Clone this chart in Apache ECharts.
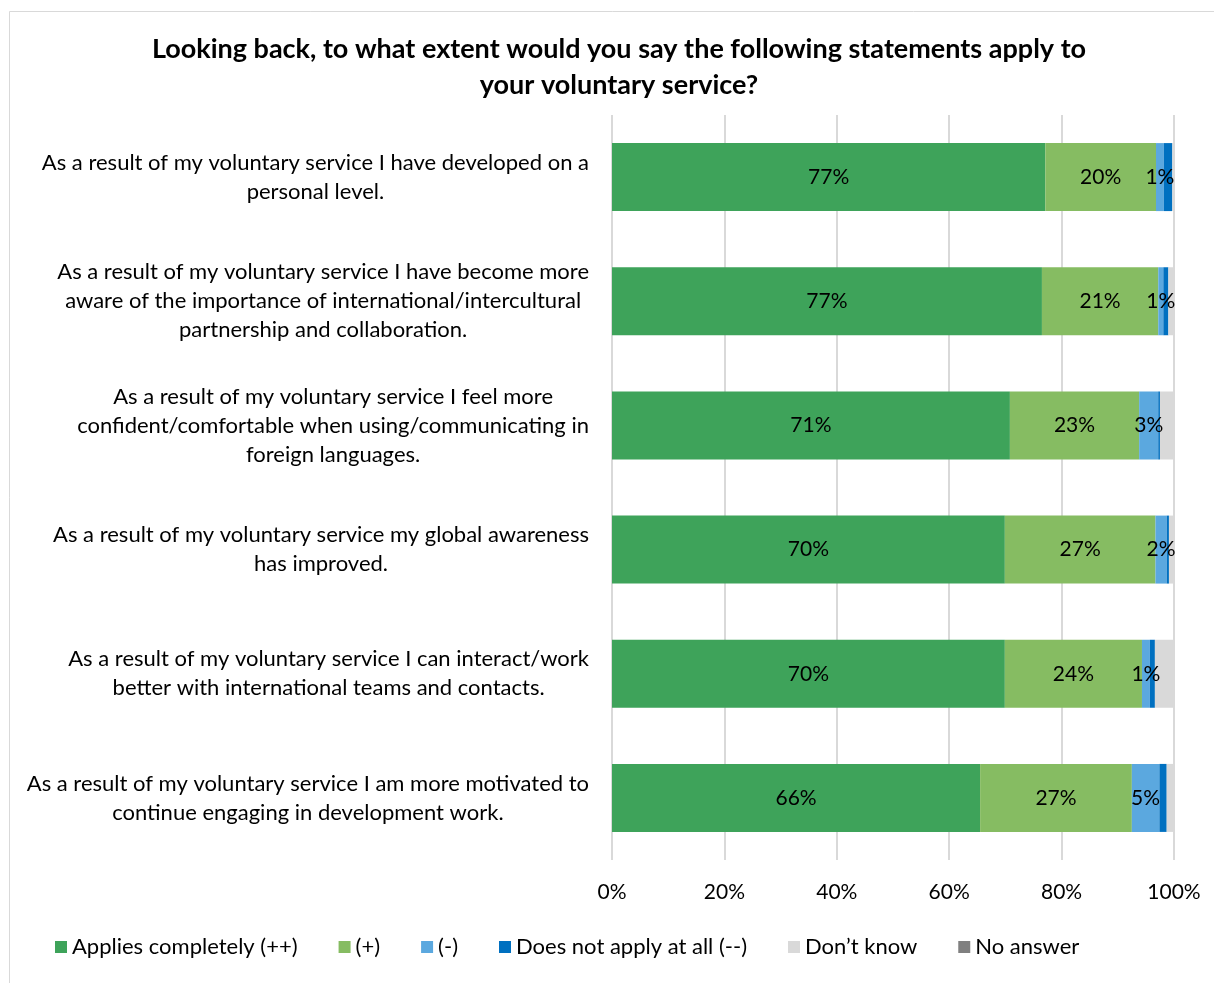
<!DOCTYPE html>
<html>
<head>
<meta charset="utf-8">
<script src="https://cdn.jsdelivr.net/npm/echarts@6/dist/echarts.min.js"></script>
<style>
  html, body { margin: 0; padding: 0; background: #fff; }
  #chart { width: 1214px; height: 983px; }
</style>
</head>
<body>
<div id="chart"></div>
<script>
// Survey statements (each line of a label is one entry)
const statements = [
  ['As a result of my voluntary service I have developed on a', 'personal level.'],
  ['As a result of my voluntary service I have become more', 'aware of the importance of international/intercultural', 'partnership and collaboration.'],
  ['As a result of my voluntary service I feel more', 'confident/comfortable when using/communicating in', 'foreign languages.'],
  ['As a result of my voluntary service my global awareness', 'has improved.'],
  ['As a result of my voluntary service I can interact/work', 'better with international teams and contacts.'],
  ['As a result of my voluntary service I am more motivated to', 'continue engaging in development work.']
];

// Share of respondents per answer (percent)
const appliesCompletely = [77.1, 76.5, 70.8, 69.9, 69.9, 65.5];
const plus              = [19.7, 20.7, 23.0, 26.8, 24.4, 27.0];
const minus             = [1.4, 0.9, 3.4, 2.0, 1.4, 4.9];
const notAtAll          = [1.5, 0.9, 0.3, 0.4, 0.9, 1.3];
const dontKnow          = [0.3, 1.0, 2.5, 0.9, 3.4, 1.3];
const noAnswer          = [0, 0, 0, 0, 0, 0];

const seriesNames = ['Applies completely (++)', '(+)', '(-)', 'Does not apply at all (--)', 'Don\u2019t know', 'No answer'];
const seriesColors = ['#3EA35A', '#86BC62', '#5BA8DF', '#0070C0', '#D9D9D9', '#808080'];
const xTicks = [0, 20, 40, 60, 80, 100];

const FONT = 'Lato';
const chart = echarts.init(document.getElementById('chart'), null, { renderer: 'canvas' });

const seriesData = [appliesCompletely, plus, minus, notAtAll, dontKnow, noAnswer];
const labelled = [true, true, true, false, false, false];

const series = seriesData.map((vals, i) => ({
  name: seriesNames[i],
  type: 'bar',
  stack: 'total',
  barWidth: 68,
  data: vals,
  itemStyle: { color: seriesColors[i] },
  label: {
    show: labelled[i],
    position: 'inside',
    color: '#000',
    fontFamily: FONT,
    fontSize: 21,
    formatter: p => Math.round(p.value) + '%'
  },
  emphasis: { disabled: true }
}));

chart.setOption({
  animation: false,
  backgroundColor: '#fff',
  textStyle: { fontFamily: FONT },
  graphic: [{
    type: 'rect',
    left: 7, top: 9,
    shape: { width: 1230, height: 1000 },
    style: { fill: 'none', stroke: '#D9D9D9', lineWidth: 1 },
    silent: true
  }],
  title: {
    text: 'Looking back, to what extent would you say the following statements apply to\nyour voluntary service?',
    left: 614,
    top: 26,
    textAlign: 'center',
    textStyle: {
      fontFamily: FONT,
      fontWeight: 'bold',
      fontSize: 27,
      lineHeight: 36,
      color: '#000'
    }
  },
  legend: {
    left: 55,
    top: 936,
    padding: 0,
    icon: 'rect',
    itemWidth: 12,
    itemHeight: 12,
    itemGap: 41,
    textStyle: { fontFamily: FONT, fontSize: 22, color: '#000' },
    data: seriesNames
  },
  grid: {
    left: 612,
    right: 40,
    top: 115,
    bottom: 123,
    containLabel: false
  },
  xAxis: {
    type: 'value',
    min: 0,
    max: 100,
    interval: 20,
    axisLine: { show: false },
    axisTick: { show: false },
    splitLine: { lineStyle: { color: '#D9D9D9', width: 2 } },
    axisLabel: {
      margin: 22,
      fontFamily: FONT,
      fontSize: 21,
      color: '#000',
      customValues: xTicks,
      formatter: v => v + '%'
    }
  },
  yAxis: {
    type: 'category',
    inverse: true,
    data: statements.map(s => s.join('\n')),
    axisLine: { show: false },
    axisTick: { show: false },
    axisLabel: {
      margin: 23,
      align: 'right',
      fontFamily: FONT,
      fontSize: 22,
      color: '#000',
      lineHeight: 29,
      formatter: v => v.split('\n').map(l => '{c|' + l + '}').join('\n'),
      rich: {
        c: { align: 'center', fontFamily: FONT, fontSize: 22, lineHeight: 29, color: '#000' }
      }
    }
  },
  series: series
});
</script>
</body>
</html>
